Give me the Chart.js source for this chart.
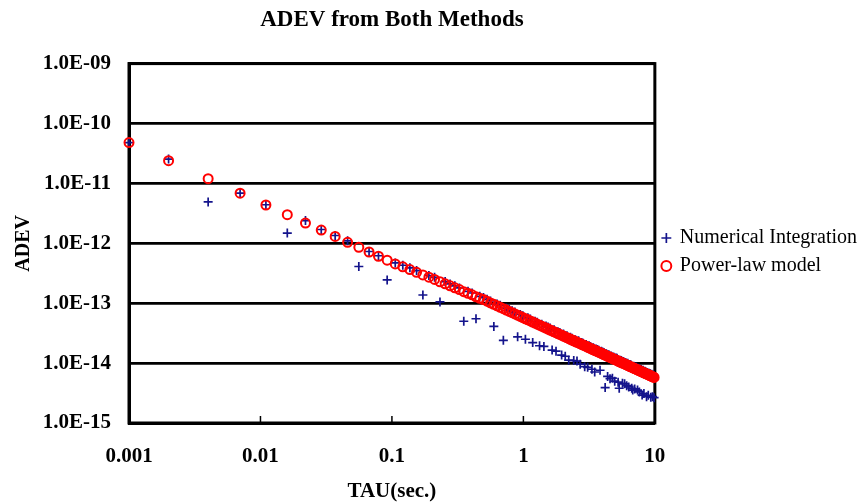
<!DOCTYPE html>
<html>
<head>
<meta charset="utf-8">
<script src="https://cdn.jsdelivr.net/npm/chart.js@4/dist/chart.umd.min.js"></script>
<style>
  html, body { margin: 0; padding: 0; background: #fff; }
  #wrap { width: 858px; height: 504px; position: relative; }
</style>
</head>
<body>
<div id="wrap"><canvas id="c" width="858" height="504"></canvas></div>
<script>
// ---- data ----
const chartTitle = 'ADEV from Both Methods';
const xTitle = 'TAU(sec.)';
const yTitle = 'ADEV';
const seriesNames = ['Numerical Integration', 'Power-law model'];

const xTicks = [0.001, 0.01, 0.1, 1, 10];
const xTickLabels = ['0.001', '0.01', '0.1', '1', '10'];
const yTicks = [1e-15, 1e-14, 1e-13, 1e-12, 1e-11, 1e-10, 1e-9];
const yTickLabels = ['1.0E-15', '1.0E-14', '1.0E-13', '1.0E-12', '1.0E-11', '1.0E-10', '1.0E-09'];

// averaging times (s)
const tau = [
  0.001,0.002,0.004,0.007,0.011,0.016,0.022,0.029,0.037,0.046,
  0.056,0.067,0.079,0.092,0.106,0.121,0.137,0.154,0.172,0.191,
  0.211,0.232,0.254,0.277,0.301,0.326,0.352,0.379,0.407,0.436,
  0.466,0.497,0.529,0.562,0.596,0.631,0.667,0.704,0.742,0.781,
  0.821,0.862,0.904,0.947,0.991,1.036,1.082,1.129,1.177,1.226,
  1.276,1.327,1.379,1.432,1.486,1.541,1.597,1.654,1.712,1.771,
  1.831,1.892,1.954,2.017,2.081,2.146,2.212,2.279,2.347,2.416,
  2.486,2.557,2.629,2.702,2.776,2.851,2.927,3.004,3.082,3.161,
  3.241,3.322,3.404,3.487,3.571,3.656,3.742,3.829,3.917,4.006,
  4.096,4.187,4.279,4.372,4.466,4.561,4.657,4.754,4.852,4.951,
  5.051,5.152,5.254,5.357,5.461,5.566,5.672,5.779,5.887,5.996,
  6.106,6.217,6.329,6.442,6.556,6.671,6.787,6.904,7.022,7.141,
  7.261,7.382,7.504,7.627,7.751,7.876,8.002,8.129,8.257,8.386,
  8.516,8.647,8.779,8.912,9.046,9.181,9.317,9.454,9.592,9.731,
  9.871
];

// Numerical Integration ADEV
const adevNumerical = [
  4.8e-11,2.55e-11,4.9e-12,6.9e-12,4.4e-12,1.48e-12,2.4e-12,1.7e-12,1.35e-12,1.1e-12,
  4.1e-13,7.3e-13,6.2e-13,2.45e-13,4.7e-13,4.3e-13,3.9e-13,3.5e-13,1.37e-13,2.9e-13,
  2.7e-13,1.05e-13,2.3e-13,2.1e-13,1.95e-13,1.8e-13,5.0e-14,1.58e-13,1.48e-13,5.5e-14,
  1.3e-13,1.24e-13,1.16e-13,1.09e-13,4.1e-14,9.7e-14,9.2e-14,2.4e-14,8.3e-14,7.9e-14,
  7.5e-14,7.1e-14,2.75e-14,6.5e-14,6.2e-14,2.5e-14,5.7e-14,5.45e-14,2.2e-14,5.0e-14,
  4.8e-14,1.95e-14,4.45e-14,1.9e-14,4.15e-14,4.0e-14,3.85e-14,1.65e-14,3.6e-14,1.58e-14,
  3.35e-14,3.25e-14,1.36e-14,3.05e-14,1.3e-14,2.85e-14,1.12e-14,2.7e-14,2.6e-14,1.1e-14,
  2.45e-14,1.08e-14,2.35e-14,9.6e-15,2.2e-14,2.15e-14,8.7e-15,2.05e-14,8.5e-15,1.95e-14,
  1.9e-14,7.9e-15,1.8e-14,7.1e-15,1.72e-14,1.68e-14,1.64e-14,7.6e-15,1.57e-14,1.53e-14,
  1.5e-14,3.9e-15,1.43e-14,6.0e-15,1.38e-14,5.5e-15,1.32e-14,5.6e-15,1.26e-14,5.0e-15,
  1.22e-14,1.2e-14,4.8e-15,3.8e-15,1.12e-14,1.1e-14,4.6e-15,1.06e-14,4.5e-15,1.02e-14,
  4.2e-15,9.9e-15,4.0e-15,9.5e-15,9.4e-15,3.8e-15,3.55e-15,8.9e-15,3.7e-15,8.6e-15,
  8.5e-15,3.55e-15,8.2e-15,3.3e-15,7.9e-15,7.8e-15,2.93e-15,7.6e-15,3.1e-15,7.3e-15,
  7.2e-15,2.75e-15,7.0e-15,2.9e-15,6.8e-15,6.7e-15,2.7e-15,6.5e-15,2.75e-15,6.3e-15,
  2.65e-15
];

// Power-law model ADEV
const adevPowerLaw = [
  4.8e-11,2.4e-11,1.2e-11,6.86e-12,4.36e-12,3.0e-12,2.18e-12,1.66e-12,1.30e-12,1.04e-12,
  8.57e-13,7.16e-13,6.08e-13,5.22e-13,4.53e-13,4.05e-13,3.65e-13,3.28e-13,2.97e-13,2.72e-13,
  2.49e-13,2.28e-13,2.11e-13,1.95e-13,1.81e-13,1.69e-13,1.56e-13,1.46e-13,1.38e-13,1.28e-13,
  1.21e-13,1.15e-13,1.08e-13,1.01e-13,9.56e-14,9.03e-14,8.55e-14,8.10e-14,7.68e-14,7.30e-14,
  6.94e-14,6.61e-14,6.31e-14,6.02e-14,5.75e-14,5.50e-14,5.27e-14,5.05e-14,4.84e-14,4.65e-14,
  4.47e-14,4.30e-14,4.13e-14,3.98e-14,3.84e-14,3.70e-14,3.57e-14,3.45e-14,3.33e-14,3.22e-14,
  3.11e-14,3.01e-14,2.92e-14,2.83e-14,2.74e-14,2.66e-14,2.58e-14,2.50e-14,2.43e-14,2.36e-14,
  2.29e-14,2.23e-14,2.17e-14,2.11e-14,2.05e-14,2.00e-14,1.95e-14,1.90e-14,1.85e-14,1.80e-14,
  1.76e-14,1.72e-14,1.67e-14,1.63e-14,1.60e-14,1.56e-14,1.52e-14,1.49e-14,1.46e-14,1.42e-14,
  1.39e-14,1.36e-14,1.33e-14,1.30e-14,1.28e-14,1.25e-14,1.22e-14,1.20e-14,1.17e-14,1.15e-14,
  1.13e-14,1.11e-14,1.08e-14,1.06e-14,1.04e-14,1.02e-14,1.00e-14,9.86e-15,9.68e-15,9.51e-15,
  9.34e-15,9.17e-15,9.01e-15,8.85e-15,8.69e-15,8.54e-15,8.40e-15,8.26e-15,8.12e-15,7.98e-15,
  7.85e-15,7.72e-15,7.60e-15,7.47e-15,7.35e-15,7.24e-15,7.12e-15,7.01e-15,6.90e-15,6.80e-15,
  6.69e-15,6.59e-15,6.49e-15,6.40e-15,6.30e-15,6.21e-15,6.12e-15,6.03e-15,5.94e-15,5.86e-15,
  5.77e-15
];

// ---- chart ----
const SERIF = "'Liberation Serif', 'Times New Roman', 'DejaVu Serif', serif";
Chart.defaults.font.family = SERIF;
Chart.defaults.color = '#000';

const framePlugin = {
  id: 'frame',
  beforeDatasetsDraw(chart) {
    const { ctx, chartArea: a, scales } = chart;
    const xs = scales.x;
    ctx.save();
    ctx.strokeStyle = '#000';
    ctx.lineWidth = 3;
    ctx.strokeRect(a.left, a.top, a.right - a.left, a.bottom - a.top);
    ctx.lineWidth = 1.5;
    xTicks.forEach(v => {
      const px = xs.getPixelForValue(v);
      ctx.beginPath();
      ctx.moveTo(px, a.bottom);
      ctx.lineTo(px, a.bottom - 7);
      ctx.stroke();
    });
    ctx.restore();
  }
};

const toPoints = (xsArr, ysArr) => xsArr.map((t, i) => ({ x: t, y: ysArr[i] }));

new Chart(document.getElementById('c'), {
  type: 'scatter',
  data: {
    datasets: [
      {
        label: seriesNames[0],
        data: toPoints(tau, adevNumerical),
        pointStyle: 'cross',
        pointRadius: 4.5,
        pointHoverRadius: 4.5,
        borderColor: '#14148c',
        backgroundColor: '#14148c',
        borderWidth: 1.7,
        order: 1,
        clip: false
      },
      {
        label: seriesNames[1],
        data: toPoints(tau, adevPowerLaw),
        pointStyle: 'circle',
        pointRadius: 4.5,
        pointHoverRadius: 4.5,
        borderColor: '#ff0000',
        backgroundColor: 'rgba(0,0,0,0)',
        borderWidth: 2,
        order: 0,
        clip: false
      }
    ]
  },
  options: {
    responsive: false,
    animation: false,
    events: [],
    layout: { padding: { left: 0, right: -9, top: 0, bottom: 0 } },
    plugins: {
      title: {
        display: true,
        fullSize: false,
        text: chartTitle,
        font: { size: 23, weight: 'bold', family: SERIF },
        color: '#000',
        padding: { top: 6, bottom: 30 }
      },
      legend: {
        display: true,
        position: 'right',
        align: 'center',
        labels: {
          usePointStyle: true,
          boxWidth: 7,
          boxHeight: 7,
          padding: 8,
          color: '#000',
          font: { size: 20, family: SERIF },
          sort: (a, b) => a.datasetIndex - b.datasetIndex
        }
      },
      tooltip: { enabled: false }
    },
    scales: {
      x: {
        type: 'logarithmic',
        position: 'bottom',
        min: 0.001,
        max: 10,
        afterBuildTicks: s => { s.ticks = xTicks.map(v => ({ value: v })); },
        afterFit: s => { s.height = 81; },
        ticks: {
          autoSkip: false,
          maxRotation: 0,
          padding: 21,
          font: { size: 21, weight: 'bold', family: SERIF },
          color: '#000',
          callback: (v, i) => xTickLabels[i]
        },
        grid: { display: false, drawTicks: false },
        border: { display: true, color: '#000', width: 3 },
        title: {
          display: true,
          text: xTitle,
          font: { size: 21, weight: 'bold', family: SERIF },
          color: '#000',
          padding: { top: 0, bottom: 0 }
        }
      },
      y: {
        type: 'logarithmic',
        position: 'left',
        min: 1e-15,
        max: 1e-9,
        afterBuildTicks: s => { s.ticks = yTicks.map(v => ({ value: v })); },
        afterFit: s => { s.width = 129; },
        ticks: {
          autoSkip: false,
          padding: 18,
          font: { size: 21, weight: 'bold', family: SERIF },
          color: '#000',
          callback: (v, i) => yTickLabels[i]
        },
        grid: { display: true, color: '#000', lineWidth: 2.8, drawTicks: false },
        border: { display: true, color: '#000', width: 3 },
        title: {
          display: true,
          text: yTitle,
          font: { size: 20, weight: 'bold', family: SERIF },
          color: '#000',
          padding: { top: 12, bottom: 0 }
        }
      }
    }
  },
  plugins: [framePlugin]
});
</script>
</body>
</html>
